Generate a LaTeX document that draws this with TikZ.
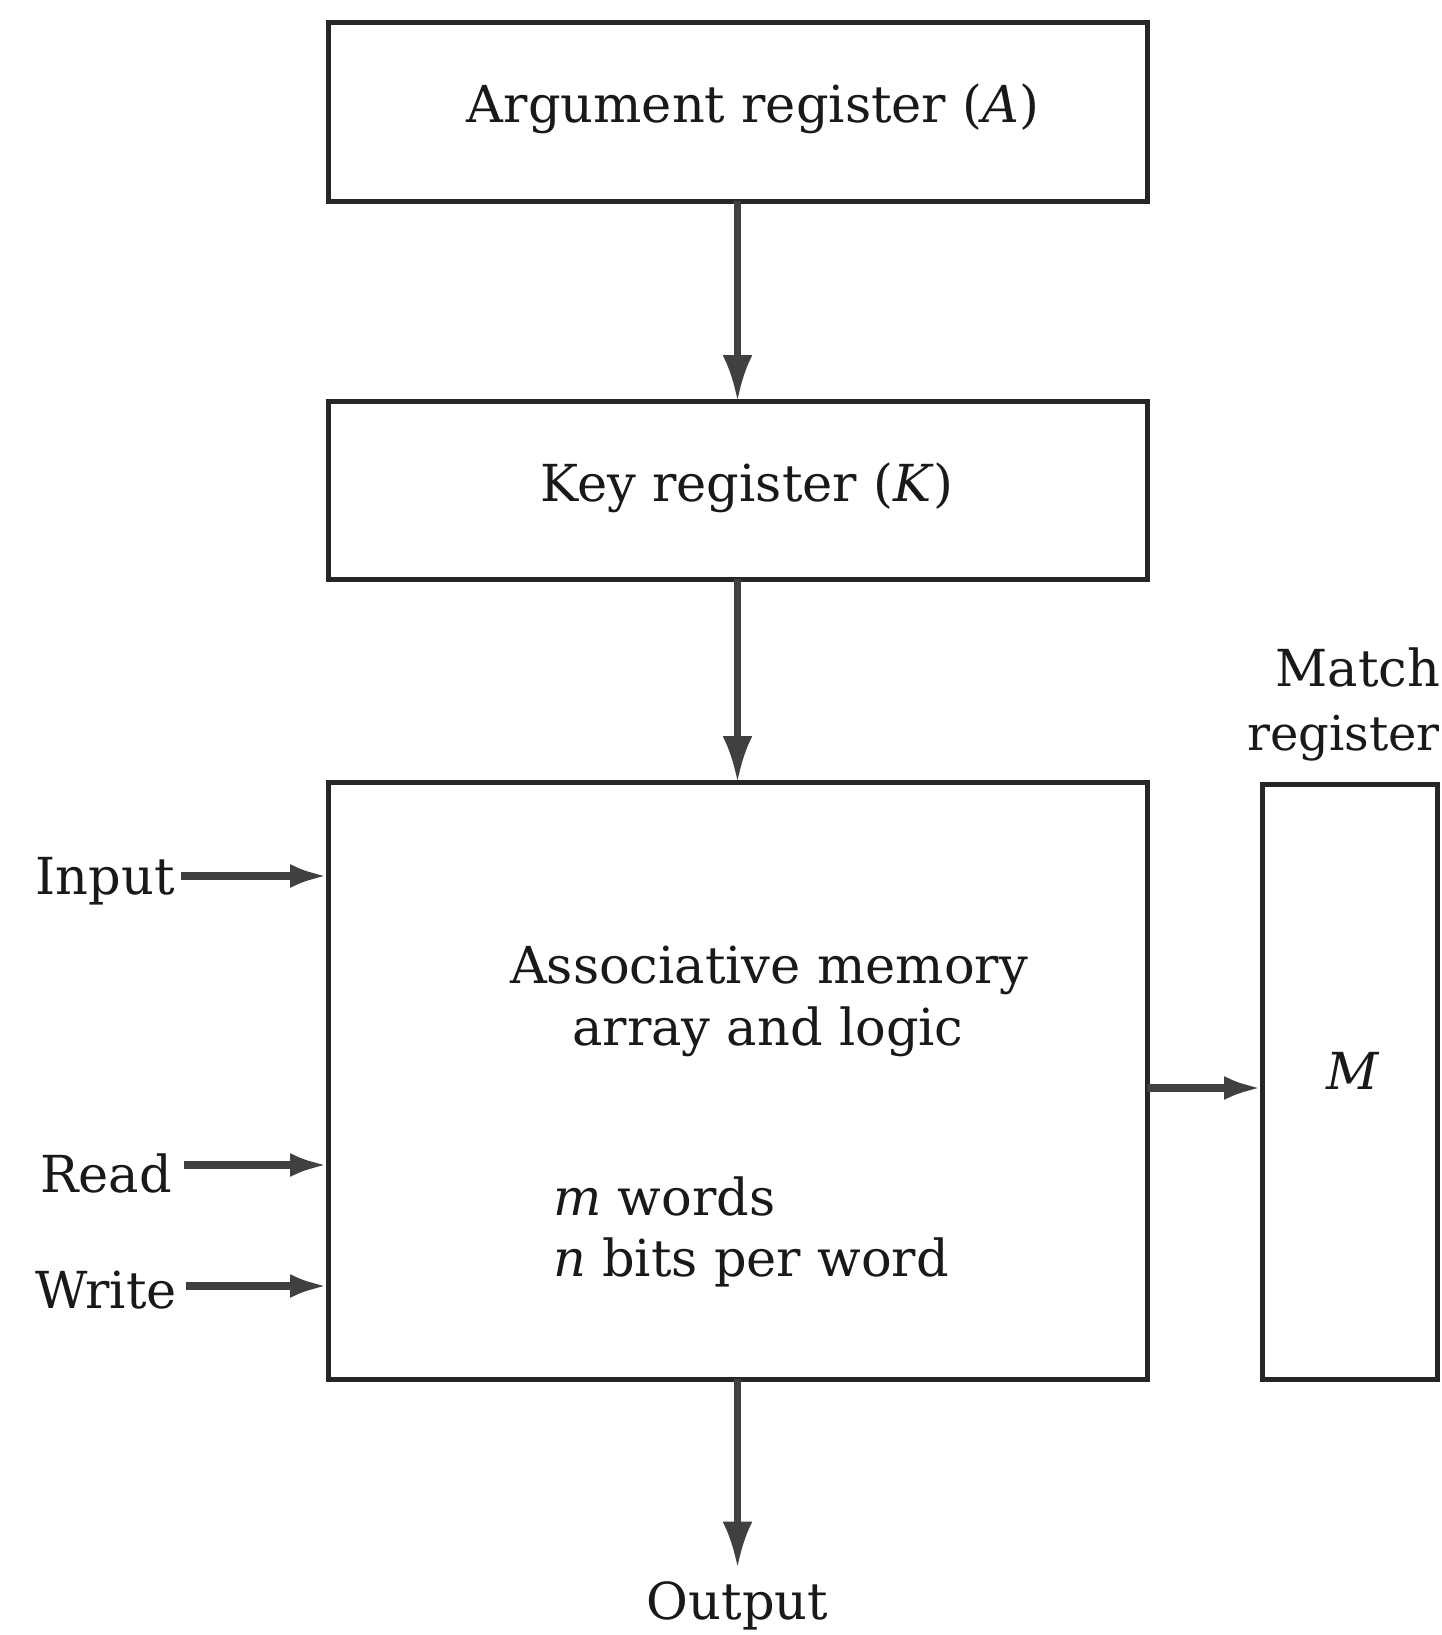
\documentclass[tikz,border=0pt]{standalone}
\usepackage{fontspec}
\setmainfont{DejaVu Serif}
\usetikzlibrary{arrows.meta}
\begin{document}
\begin{tikzpicture}[x=1pt,y=-1pt,
  box/.style={draw=black!85, line width=5pt, inner sep=0pt, outer sep=0pt, anchor=north west},
  lbl/.style={inner sep=0pt, font=\fontsize{51}{60}\selectfont, text=black!90},
  conn/.style={draw=black!75, line width=6.5pt, -{Latex[length=46pt,width=30pt]}},
  sconn/.style={draw=black!75, line width=7.5pt, -{Latex[length=38pt,width=24pt]}}]
\useasboundingbox (0,0) rectangle (1442,1635);
% boxes
\node[box, minimum width=819pt, minimum height=178pt] (arg) at (328,23) {};
\node[box, minimum width=819pt, minimum height=178pt] (key) at (328,401) {};
\node[box, minimum width=819pt, minimum height=597pt] (mem) at (328,782) {};
\node[box, minimum width=175pt, minimum height=595pt] (match) at (1262,784) {};
% texts
\node[lbl] (argt) at (753,109) {Argument register (\textit{A})};
\node[lbl] (keyt) at (747,488) {Key register (\textit{K})};
\node[lbl] (memt1) at (769,970) {Associative memory};
\node[lbl] (memt2) at (768,1032) {array and logic};
\node[lbl, anchor=west] (memt3) at (553,1196) {\textit{m} words};
\node[lbl, anchor=west] (memt4) at (553,1262) {\textit{n} bits per word};
\node[lbl] (mt1) at (1358,667) {Match};
\node[lbl, anchor=east, font=\fontsize{48}{58}\selectfont] (mt2) at (1440,738) {register};
\node[lbl] (mt) at (1353,1071) {\textit{M}};
\node[lbl, anchor=east] (input) at (175,881) {Input};
\node[lbl, anchor=east] (read) at (172,1173) {Read};
\node[lbl, anchor=east] (write) at (177,1290) {Write};
\node[lbl] (output) at (737.5,1606) {Output};
% connectors
\draw[conn] (arg.south) -- (key.north);
\draw[conn] (key.south) -- (mem.north);
\draw[conn, shorten >=14pt] (mem.south) -- (mem.south |- output.north);
\draw[sconn] ([xshift=6pt,yshift=5pt]input.east) -- ([yshift=5pt]input.east -| mem.west);
\draw[sconn] ([xshift=12pt,yshift=8pt]read.east) -- ([yshift=8pt]read.east -| mem.west);
\draw[sconn] ([xshift=9pt,yshift=4pt]write.east) -- ([yshift=4pt]write.east -| mem.west);
\draw[sconn] (mem.east |- 0,1088) -- (match.west |- 0,1088);
\end{tikzpicture}
\end{document}
